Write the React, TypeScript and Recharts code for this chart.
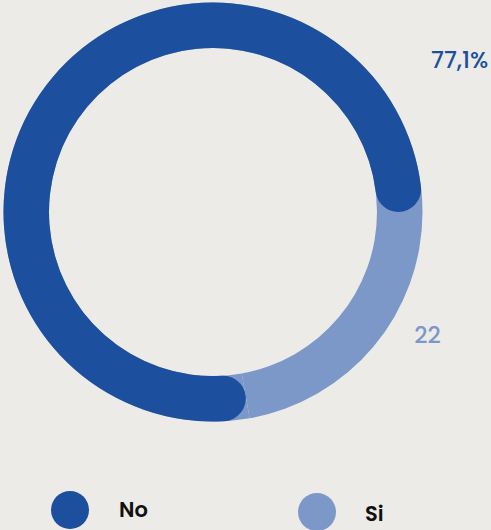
import React from 'react';
import { PieChart, Pie, Cell, Legend } from 'recharts';

const categories = ['No', 'Si'];
const values = [77.1, 22];
const valueLabels = ['77,1%', '22'];
const colors = ['#1d4f9f', '#7b98c9'];

const data = categories.map((name, i) => ({ name, value: values[i] }));

const W = 491;
const H = 530;
const CX = 213;
const CY = 212;
const OR = 209.5;
const IR = 164;
const FONT = 'Poppins, Inter, sans-serif';

const labelPlacement = [
  { angle: 31.7, extra: 80.4 },
  { angle: -29.8, extra: 37.8 },
];

const renderLabel = (props: any) => {
  const { cx, cy, outerRadius, index } = props;
  const p = labelPlacement[index];
  const rad = (p.angle * Math.PI) / 180;
  const r = outerRadius + p.extra;
  return (
    <text
      key={`lbl-${index}`}
      x={cx + r * Math.cos(rad)}
      y={cy - r * Math.sin(rad)}
      fill={colors[index]}
      textAnchor="middle"
      dominantBaseline="central"
      fontFamily={FONT}
      fontSize={23}
      fontWeight={500}
    >
      {valueLabels[index]}
    </text>
  );
};

const renderLegend = () => (
  <div style={{ display: 'flex', fontFamily: FONT, width: 494 }}>
    {categories.map((c, i) => (
      <div
        key={c}
        style={{ display: 'flex', alignItems: 'center', width: 247, flex: '0 0 247px', height: 38, marginTop: i === 1 ? 2 : 0 }}
      >
        <span
          style={{
            width: 38,
            height: 38,
            borderRadius: '50%',
            background: colors[i],
            display: 'inline-block',
            flex: '0 0 38px',
          }}
        />
        <span
          style={{
            marginLeft: i === 0 ? 30 : 29,
            fontSize: 21,
            fontWeight: 600,
            color: '#111',
            lineHeight: '38px',
            position: 'relative',
            top: i === 1 ? 2 : 0,
          }}
        >
          {c}
        </span>
      </div>
    ))}
  </div>
);

export default function App() {
  return (
    <div style={{ position: 'absolute', left: 0, top: 0, width: W, height: H, background: '#ecebe8', overflow: 'hidden' }}>
      <PieChart width={W} height={H} margin={{ top: 0, right: 0, bottom: 0, left: 0 }}>
        <Pie
          data={data}
          dataKey="value"
          nameKey="name"
          cx={CX}
          cy={CY}
          innerRadius={IR}
          outerRadius={OR}
          startAngle={0}
          endAngle={360}
          stroke="none"
          isAnimationActive={false}
          legendType="none"
        >
          {data.map((d) => (
            <Cell key={`track-${d.name}`} fill={colors[1]} />
          ))}
        </Pie>
        <Pie
          data={data}
          dataKey="value"
          nameKey="name"
          cx={CX}
          cy={CY}
          innerRadius={IR}
          outerRadius={OR}
          startAngle={0}
          endAngle={360}
          cornerRadius={(OR - IR) / 2}
          stroke="none"
          isAnimationActive={false}
          label={renderLabel}
          labelLine={false}
        >
          {data.map((d, i) => (
            <Cell key={`main-${d.name}`} fill={i === 0 ? colors[0] : 'transparent'} />
          ))}
        </Pie>
        <Legend
          content={renderLegend}
          wrapperStyle={{ position: 'absolute', left: 51, top: 491, width: 440, height: 40 }}
        />
      </PieChart>
    </div>
  );
}
